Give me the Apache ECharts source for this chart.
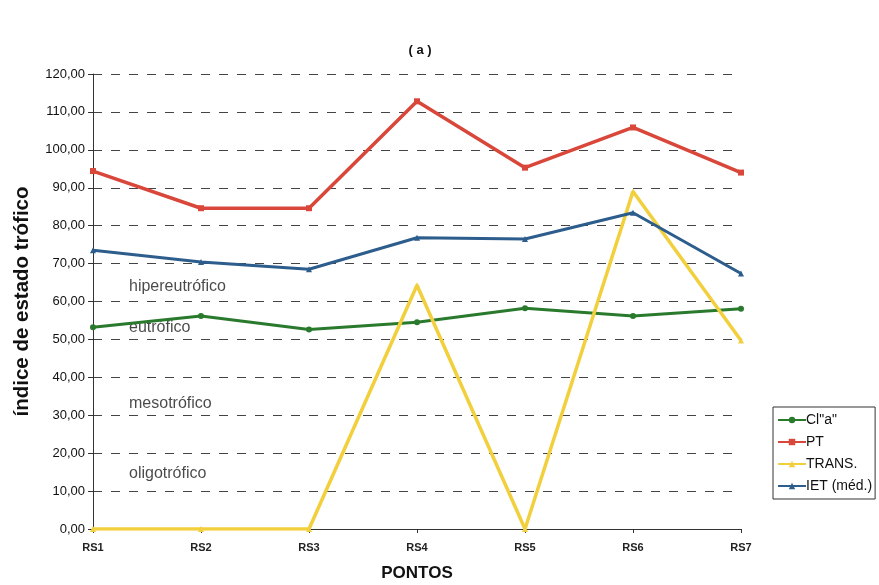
<!DOCTYPE html>
<html>
<head>
<meta charset="utf-8">
<script src="https://cdn.jsdelivr.net/npm/echarts@6/dist/echarts.min.js"></script>
<style>
  html, body { margin: 0; padding: 0; background: #fff; }
  #chart { width: 879px; height: 585px; }
</style>
</head>
<body>
<div id="chart"></div>
<script>
// Sampling points along the reservoir
var pontos = ['RS1', 'RS2', 'RS3', 'RS4', 'RS5', 'RS6', 'RS7'];

// Trophic state index per variable
var clA   = [53.2, 56.2, 52.6, 54.5, 58.2, 56.2, 58.1];
var pt    = [94.4, 84.6, 84.6, 112.8, 95.3, 105.9, 94.0];
var trans = [0, 0, 0, 64.3, 0, 89.0, 49.7];
var ietMed = [73.5, 70.4, 68.5, 76.8, 76.5, 83.4, 67.4];

// Trophic class labels and the index level they sit at
var classes = ['hipereutrófico', 'eutrófico', 'mesotrófico', 'oligotrófico'];
var classLevels = [64, 53, 33, 14.5];

var font = 'Liberation Sans, Arial, sans-serif';

var chart = echarts.init(document.getElementById('chart'));

function seriesOf(name, data, color, symbol, size, width) {
  return {
    name: name,
    type: 'line',
    data: data,
    symbol: symbol,
    symbolSize: size,
    showSymbol: true,
    lineStyle: { color: color, width: width },
    itemStyle: { color: color },
    animation: false
  };
}

var classSeries = {
  name: 'classes',
  type: 'scatter',
  data: classes.map(function (c, i) { return [0, classLevels[i], c]; }),
  symbolSize: 0,
  silent: true,
  animation: false,
  label: {
    show: true,
    position: 'right',
    distance: 36,
    formatter: function (p) { return p.data[2]; },
    color: '#1a1a1a',
    fontFamily: font,
    fontSize: 16
  }
};

chart.setOption({
  backgroundColor: '#fff',
  title: {
    text: '( a )',
    left: 415,
    top: 39,
    textAlign: 'center',
    textStyle: { fontFamily: font, fontSize: 13, fontWeight: 'bold', color: '#111' }
  },
  grid: {
    left: 93, right: 138, top: 74, bottom: 56,
    containLabel: false,
    outerBoundsMode: 'none'
  },
  legend: {
    orient: 'vertical',
    left: 773,
    top: 407,
    padding: [6, 3, 6, 4],
    itemGap: 8,
    itemWidth: 28,
    itemHeight: 8,
    borderColor: '#333',
    borderWidth: 1,
    data: ['Cl"a"', 'PT', 'TRANS.', 'IET(méd.)'],
    formatter: function (n) { return n === 'IET(méd.)' ? 'IET (méd.)' : n; },
    textStyle: { fontFamily: font, fontSize: 14, color: '#111', padding: [0, 0, 0, -5] }
  },
  xAxis: {
    type: 'category',
    data: pontos,
    boundaryGap: false,
    name: 'PONTOS',
    nameLocation: 'middle',
    nameGap: 36,
    nameTextStyle: { fontFamily: font, fontSize: 17, fontWeight: 'bold', color: '#111' },
    axisLine: { lineStyle: { color: '#333', width: 1 } },
    axisTick: { show: true, length: 4, lineStyle: { color: '#333' } },
    axisLabel: { fontFamily: font, fontSize: 11, fontWeight: 'bold', color: '#222', margin: 13 }
  },
  yAxis: {
    type: 'value',
    min: 0,
    max: 120,
    interval: 10,
    name: 'índice de estado trófico',
    nameLocation: 'middle',
    nameGap: 60,
    nameTextStyle: { fontFamily: font, fontSize: 20.5, fontWeight: 'bold', color: '#111' },
    axisLine: { show: true, lineStyle: { color: '#333', width: 1 } },
    axisTick: { show: true, length: 5, lineStyle: { color: '#333' } },
    axisLabel: {
      fontFamily: font, fontSize: 13, color: '#111', margin: 8,
      formatter: function (v) { return v.toFixed(2).replace('.', ','); }
    },
    splitLine: { show: true, lineStyle: { color: '#444', type: [9, 9], width: 1 } }
  },
  series: [
    seriesOf('Cl"a"', clA, '#2a7a2e', 'circle', 6, 3),
    seriesOf('PT', pt, '#d9473a', 'rect', 6, 3.5),
    seriesOf('TRANS.', trans, '#f2cf3c', 'triangle', 6, 3.5),
    seriesOf('IET(méd.)', ietMed, '#2d5d8c', 'triangle', 6, 3),
    classSeries
  ]
});
</script>
</body>
</html>
